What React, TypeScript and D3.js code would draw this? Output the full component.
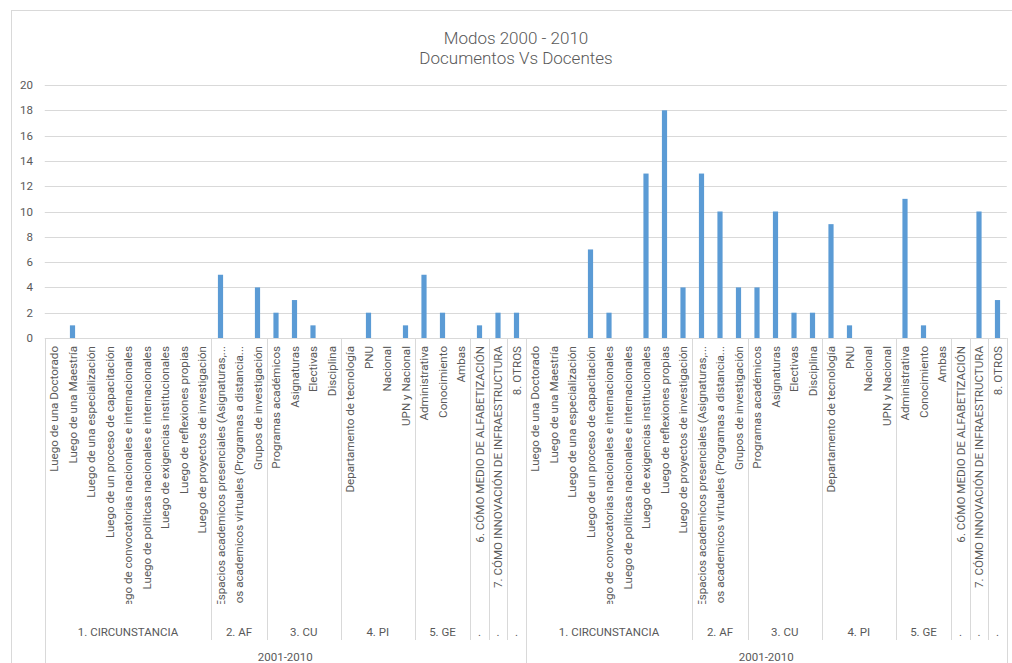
import React from 'react';
import * as d3 from 'd3';

const circunstancia = [
  'Luego de una Doctorado',
  'Luego de una Maestría',
  'Luego de una especialización',
  'Luego de un proceso de capacitación',
  'Luego de convocatorias nacionales e internacionales',
  'Luego de políticas nacionales e internacionales',
  'Luego de exigencias institucionales',
  'Luego de reflexiones propias',
  'Luego de proyectos de investigación',
];
const af = [
  'Espacios academicos presenciales (Asignaturas,...',
  'Espacios academicos virtuales (Programas a distancia...',
  'Grupos de investigación',
];
const cu = ['Programas académicos', 'Asignaturas', 'Electivas', 'Disciplina'];
const pi = ['Departamento de tecnología', 'PNU', 'Nacional', 'UPN y Nacional'];
const ge = ['Administrativa', 'Conocimiento', 'Ambas'];
const otros6 = ['6. CÓMO MEDIO DE ALFABETIZACIÓN'];
const otros7 = ['7. CÓMO INNOVACIÓN DE INFRAESTRUCTURA'];
const otros8 = ['8. OTROS'];

const groupNames = ['1. CIRCUNSTANCIA', '2. AF', '3. CU', '4. PI', '5. GE', '.', '.', '.'];
const groupItems = [circunstancia, af, cu, pi, ge, otros6, otros7, otros8];
const periods = ['2001-2010', '2001-2010'];

// Documentos (first block) and Docentes (second block)
const valoresDocumentos = [0, 1, 0, 0, 0, 0, 0, 0, 0, 5, 0, 4, 2, 3, 1, 0, 0, 2, 0, 1, 5, 2, 0, 1, 2, 2];
const valoresDocentes = [0, 0, 0, 7, 2, 0, 13, 18, 4, 13, 10, 4, 4, 10, 2, 2, 9, 1, 0, 0, 11, 1, 0, 0, 10, 3];

const yTicks = [0, 2, 4, 6, 8, 10, 12, 14, 16, 18, 20];

const W = 1012;
const H = 663;
const FONT = 'Roboto, "Open Sans", sans-serif';
const TXT = '#595959';
const GRID = '#d9d9d9';

export default function App() {
  const plotLeft = 44.75;
  const plotRight = 1006.75;
  const plotTop = 85;
  const plotBottom = 338;

  // flatten categories
  const cats: { period: number; group: number; label: string; value: number }[] = [];
  const blockValues = [valoresDocumentos, valoresDocentes];
  periods.forEach((_, p) => {
    let k = 0;
    groupItems.forEach((items, g) => {
      items.forEach((label) => {
        cats.push({ period: p, group: g, label, value: blockValues[p][k] });
        k++;
      });
    });
  });

  const x = d3.scaleBand<number>()
    .domain(cats.map((_, i) => i))
    .range([plotLeft, plotRight]);
  const step = x.bandwidth();
  const barW = step * 0.28;

  const y = d3.scaleLinear().domain([0, 20]).range([plotBottom, plotTop]);

  // group boundaries
  const groupSpans: { name: string; start: number; end: number }[] = [];
  const periodSpans: { name: string; start: number; end: number }[] = [];
  let idx = 0;
  periods.forEach((pname) => {
    const pStart = idx;
    groupItems.forEach((items, g) => {
      groupSpans.push({ name: groupNames[g], start: idx, end: idx + items.length });
      idx += items.length;
    });
    periodSpans.push({ name: pname, start: pStart, end: idx });
  });
  const edge = (i: number) => plotLeft + i * step;

  const labelClipBottom = 604;

  return (
    <div style={{ position: 'fixed', left: 0, top: 0 }}>
      <svg width={W} height={H} style={{ display: 'block', background: '#fff' }} fontFamily={FONT}>
        <defs>
          <clipPath id="lblclip">
            <rect x={0} y={plotBottom} width={W} height={labelClipBottom - plotBottom} />
          </clipPath>
        </defs>
        <rect x={11.5} y={10.5} width={1020} height={700} fill="#fff" stroke={GRID} />

        <text x={516} y={44} textAnchor="middle" fontSize={17} fill={TXT} fontWeight={300}>Modos 2000 - 2010</text>
        <text x={516} y={64} textAnchor="middle" fontSize={17} fill={TXT} fontWeight={300}>Documentos Vs Docentes</text>

        {yTicks.map((t) => (
          <g key={t}>
            {t > 0 && (
              <line x1={plotLeft} x2={plotRight} y1={Math.round(y(t)) + 0.5} y2={Math.round(y(t)) + 0.5} stroke={GRID} />
            )}
            <text x={33} y={y(t)} dy="0.35em" textAnchor="end" fontSize={11.5} fill={TXT}>{t}</text>
          </g>
        ))}

        {cats.map((c, i) => (
          <rect
            key={i}
            x={x(i)! + (step - barW) / 2}
            y={y(c.value)}
            width={barW}
            height={plotBottom - y(c.value)}
            fill="#5b9bd5"
          />
        ))}

        <line x1={plotLeft} x2={plotRight} y1={plotBottom + 0.5} y2={plotBottom + 0.5} stroke={GRID} />

        <g clipPath="url(#lblclip)">
          {cats.map((c, i) => {
            const cx = x(i)! + step / 2;
            return (
              <text
                key={i}
                transform={`translate(${cx},${plotBottom + 8}) rotate(-90)`}
                dy="0.35em"
                textAnchor="end"
                fontSize={11.6}
                fill={TXT}
              >
                {c.label}
              </text>
            );
          })}
        </g>

        {groupSpans.map((g, i) => (
          <g key={i}>
            <line x1={Math.round(edge(g.start)) + 0.5} x2={Math.round(edge(g.start)) + 0.5} y1={plotBottom} y2={640} stroke={GRID} />
            <text x={(edge(g.start) + edge(g.end)) / 2} y={632} dy="0.35em" textAnchor="middle" fontSize={11.5} fill={TXT}>{g.name}</text>
          </g>
        ))}

        {periodSpans.map((p, i) => (
          <g key={i}>
            <line x1={Math.round(edge(p.start)) + 0.5} x2={Math.round(edge(p.start)) + 0.5} y1={plotBottom} y2={H} stroke={GRID} />
            <line x1={Math.round(edge(p.end)) + 0.5} x2={Math.round(edge(p.end)) + 0.5} y1={plotBottom} y2={H} stroke={GRID} />
            <text x={(edge(p.start) + edge(p.end)) / 2} y={657} dy="0.35em" textAnchor="middle" fontSize={11.5} fill={TXT}>{p.name}</text>
          </g>
        ))}
      </svg>
    </div>
  );
}
